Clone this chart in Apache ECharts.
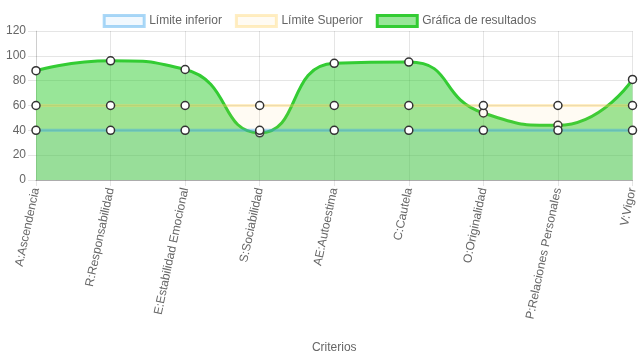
<!DOCTYPE html>
<html><head><meta charset="utf-8">
<script src="https://cdn.jsdelivr.net/npm/echarts@6/dist/echarts.min.js"></script>
<style>html,body{margin:0;padding:0;background:#fff}#c{width:639px;height:360px}</style>
</head><body><div id="c"></div>
<script>
const categories = ["A:Ascendencia","R:Responsabilidad","E:Estabilidad Emocional","S:Sociabilidad","AE:Autoestima","C:Cautela","O:Originalidad","P:Relaciones Personales","V:Vigor"];
const limiteInferior = [40,40,40,40,40,40,40,40,40];
const limiteSuperior = [60,60,60,60,60,60,60,60,60];
const resultados = [88,96,89,38,94,95,54,44,81];
const yTicks = {min:0, max:120, interval:20};

const font = 'Liberation Sans, Arial, Helvetica, sans-serif';
const chart = echarts.init(document.getElementById('c'), null, {renderer:'canvas'});
const pt = {symbol:'circle', symbolSize:8, showSymbol:true,
  itemStyle:{color:'#fff', borderColor:'#333', borderWidth:1.5}};
chart.setOption({
  animation:false,
  textStyle:{fontFamily:font},
  legend:{
    top:9, left:'center', itemWidth:40, itemHeight:11, itemGap:13,
    icon:'rect',
    textStyle:{color:'#666', fontSize:12, fontFamily:font},
    data:[
      {name:'Límite inferior', itemStyle:{color:'rgba(54,162,235,0.07)', borderColor:'rgba(54,162,235,0.42)', borderWidth:3}},
      {name:'Límite Superior', itemStyle:{color:'rgba(255,205,86,0.07)', borderColor:'rgba(255,205,86,0.35)', borderWidth:3}},
      {name:'Gráfica de resultados', itemStyle:{color:'rgba(49,205,49,0.5)', borderColor:'#33cc33', borderWidth:3}}
    ]
  },
  grid:{left:36, right:3, top:31, bottom:180},
  xAxis:{
    type:'category', data:categories, boundaryGap:false,
    name:'Criterios', nameLocation:'middle', nameGap:162,
    nameTextStyle:{color:'#666', fontSize:12, fontFamily:font},
    axisLine:{lineStyle:{color:'rgba(0,0,0,0.25)'}},
    axisTick:{show:true, length:6, lineStyle:{color:'rgba(0,0,0,0.1)'}},
    splitLine:{show:true, lineStyle:{color:'rgba(0,0,0,0.1)'}},
    axisLabel:{interval:0, rotate:78, color:'#666', fontSize:12, fontFamily:font, margin:8}
  },
  yAxis:{
    type:'value', min:yTicks.min, max:yTicks.max, interval:yTicks.interval,
    axisLine:{show:true, lineStyle:{color:'rgba(0,0,0,0.1)'}},
    axisTick:{show:true, length:8, lineStyle:{color:'rgba(0,0,0,0.1)'}},
    splitLine:{show:true, lineStyle:{color:'rgba(0,0,0,0.1)'}},
    axisLabel:{color:'#666', fontSize:12, fontFamily:font, margin:10}
  },
  series:[
    Object.assign({name:'Límite inferior', type:'line', data:limiteInferior, z:4,
      lineStyle:{color:'rgba(54,162,235,0.42)', width:3},
      areaStyle:{color:'rgba(54,162,235,0.07)', opacity:1, origin:'start'}}, pt),
    Object.assign({name:'Límite Superior', type:'line', data:limiteSuperior, z:3,
      lineStyle:{color:'rgba(255,205,86,0.35)', width:3},
      areaStyle:{color:'rgba(255,205,86,0.07)', opacity:1, origin:'start'}}, pt),
    Object.assign({name:'Gráfica de resultados', type:'line', data:resultados, z:2, smooth:0.55,
      lineStyle:{color:'#33cc33', width:3},
      areaStyle:{color:'rgba(49,205,49,0.5)', opacity:1, origin:'start'}}, pt)
  ]
});
</script></body></html>
